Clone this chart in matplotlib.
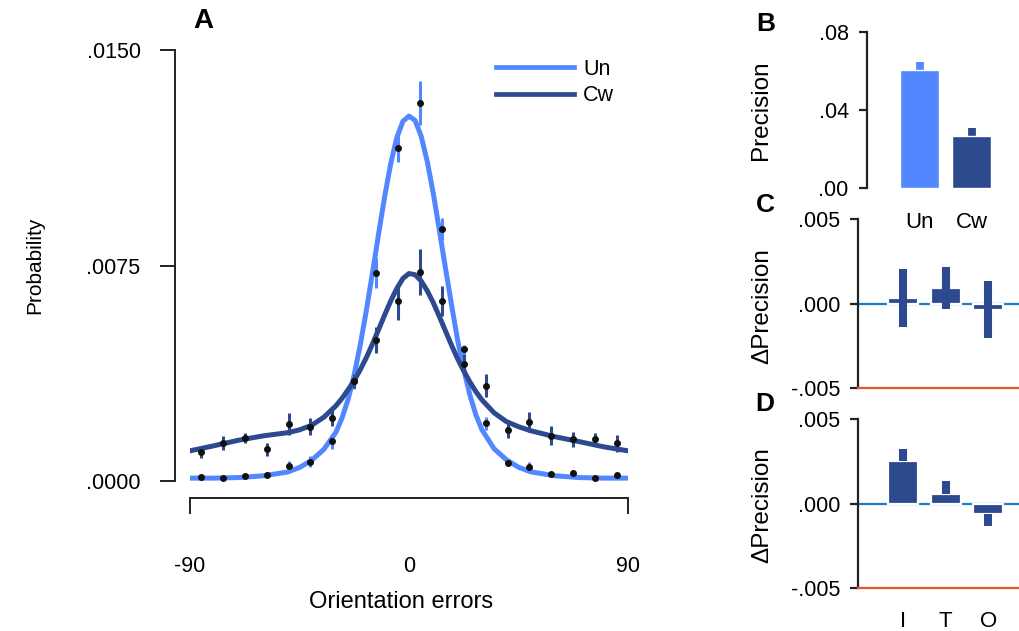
import matplotlib
matplotlib.use("Agg")
import matplotlib.pyplot as plt
import numpy as np

plt.rcParams['font.family'] = ['Liberation Sans', 'DejaVu Sans']

# ---------------- data ----------------
# Panel A: binned orientation errors (deg)
bin_centers = [-85.5, -76.5, -67.5, -58.5, -49.5, -40.5, -31.5, -22.5, -13.5, -4.5,
               4.5, 13.5, 22.5, 31.5, 40.5, 49.5, 58.5, 67.5, 76.5, 85.5]
un_points = [0.00015, 0.00010, 0.00018, 0.00022, 0.00053, 0.00067, 0.00138, 0.00348, 0.00723, 0.01159,
             0.01316, 0.00877, 0.00458, 0.00201, 0.00064, 0.00050, 0.00025, 0.00029, 0.00011, 0.00021]
un_err = [0.00005, 0.00004, 0.00004, 0.00008, 0.00018, 0.00020, 0.00026, 0.00028, 0.00052, 0.00048,
          0.00077, 0.00038, 0.00017, 0.00023, 0.00008, 0.00016, 0.00008, 0.00010, 0.00005, 0.00005]
cw_points = [0.00100, 0.00131, 0.00149, 0.00110, 0.00197, 0.00189, 0.00220, 0.00348, 0.00491, 0.00626,
             0.00726, 0.00626, 0.00406, 0.00332, 0.00177, 0.00206, 0.00158, 0.00145, 0.00145, 0.00131]
cw_err = [0.00020, 0.00024, 0.00017, 0.00023, 0.00038, 0.00029, 0.00029, 0.00023, 0.00044, 0.00064,
          0.00080, 0.00052, 0.00035, 0.00040, 0.00029, 0.00035, 0.00032, 0.00026, 0.00023, 0.00029]

# fitted curves
curve_x = [-90, -80, -70, -60, -50, -45, -40, -35, -30, -27.5, -25, -22.5, -20, -17.5, -15, -12.5,
           -10, -7.5, -5, -2.5, 0, 2.5, 5, 7.5, 10, 12.5, 15, 17.5, 20, 22.5, 25, 27.5, 30,
           35, 40, 45, 50, 60, 70, 80, 90]
un_curve = [0.00010, 0.00010, 0.00012, 0.00018, 0.00031, 0.00047, 0.00072, 0.00110, 0.00170, 0.00220,
            0.00285, 0.00370, 0.00475, 0.00595, 0.00725, 0.00860,
            0.00990, 0.01105, 0.01195, 0.01252, 0.01270, 0.01255, 0.01200, 0.01112, 0.01000,
            0.00872, 0.00740, 0.00612, 0.00490, 0.00388, 0.00300, 0.00230, 0.00178,
            0.00112, 0.00074, 0.00048, 0.00032, 0.00018, 0.00012, 0.00010, 0.00010]
cw_curve = [0.00105, 0.00123, 0.00142, 0.00157, 0.00168, 0.00178, 0.00194, 0.00222, 0.00262, 0.00288,
            0.00318, 0.00350, 0.00388, 0.00430, 0.00477, 0.00527,
            0.00578, 0.00627, 0.00670, 0.00705, 0.00722, 0.00718, 0.00696, 0.00662, 0.00620,
            0.00572, 0.00522, 0.00472, 0.00425, 0.00383, 0.00345, 0.00311, 0.00282,
            0.00237, 0.00207, 0.00189, 0.00175, 0.00154, 0.00137, 0.00119, 0.00105]

# Panel B
b_labels = ["Un", "Cw"]
b_values = [0.0603, 0.0269]
b_err = [0.0041, 0.0041]

# Panel C (two-sided error bars)
c_values = [0.00035, 0.00095, -0.00035]
c_err = [0.0017, 0.00125, 0.0017]

# Panel D (error bars shown on the outer side of each bar)
d_labels = ["I", "T", "O"]
d_values = [0.00253, 0.00059, -0.00064]
d_err = [0.0007, 0.00073, 0.0007]

LIGHT = "#5387FF"
DARK = "#2E4A8E"
ZERO = "#1C7CC4"
ORANGE = "#E2582C"
AXC = "#222222"

W, H = 1020, 631
fig = plt.figure(figsize=(W / 100, H / 100), dpi=100)


def fx(px):
    return px / W


def fy(py):
    return 1 - py / H


# ---------------- Panel A ----------------
axA = fig.add_axes([fx(190), fy(481), fx(628) - fx(190), fy(50) - fy(481)])
axA.plot(curve_x, un_curve, color=LIGHT, lw=3.6, zorder=2, label="Un", solid_joinstyle='round')
axA.plot(curve_x, cw_curve, color=DARK, lw=3.6, zorder=3, label="Cw", solid_joinstyle='round')
axA.errorbar(bin_centers, un_points, yerr=un_err, fmt='none', ecolor=LIGHT, elinewidth=2.2, capsize=0, zorder=4)
axA.errorbar(bin_centers, cw_points, yerr=cw_err, fmt='none', ecolor=DARK, elinewidth=2.2, capsize=0, zorder=4)
axA.plot(bin_centers, un_points, 'o', color='#111111', ms=4, zorder=6, clip_on=False)
axA.plot(bin_centers, cw_points, 'o', color='#111111', ms=4, zorder=6, clip_on=False)
axA.set_xlim(-90, 90)
axA.set_ylim(0, 0.015)
for s in ['top', 'right']:
    axA.spines[s].set_visible(False)
axA.spines['left'].set_position(('outward', 10.8))
axA.spines['bottom'].set_position(('outward', 12.2))
axA.spines['left'].set_bounds(0, 0.015)
axA.spines['bottom'].set_bounds(-90, 90)
for s in ['left', 'bottom']:
    axA.spines[s].set_linewidth(1.4)
    axA.spines[s].set_color(AXC)
axA.set_yticks([0, 0.0075, 0.015])
axA.set_yticklabels([".0000", ".0075", ".0150"])
axA.set_xticks([-90, 0, 90])
axA.set_xticklabels(["-90", "0", "90"])
axA.tick_params(axis='y', length=10.8, width=1.4, pad=14, labelsize=15.5, color=AXC)
axA.tick_params(axis='x', length=11.5, width=1.4, pad=30, labelsize=15.5, color=AXC)
axA.xaxis.get_major_ticks()[1].tick1line.set_visible(False)
leg = axA.legend(loc='upper left', bbox_to_anchor=(fx(496), fy(59)), bbox_transform=fig.transFigure,
                 frameon=False, fontsize=15.5, handlelength=3.6, handletextpad=0.45,
                 labelspacing=0.25, borderpad=0, borderaxespad=0)
for line in leg.get_lines():
    line.set_linewidth(3.4)
fig.text(fx(35), fy(265), "Probability", rotation=90, ha='center', va='center', fontsize=15)
fig.text(fx(401), fy(602), "Orientation errors", ha='center', va='center', fontsize=17)
fig.text(fx(203), fy(21), "A", ha='center', va='center', fontsize=20, fontweight='bold')

# ---------------- Panel B ----------------
axB = fig.add_axes([fx(866.7), fy(188.3), fx(1020) - fx(866.7), fy(31.7) - fy(188.3)])
xb = np.arange(len(b_values))
axB.errorbar(xb, b_values, yerr=[[0, 0], b_err], fmt='none', ecolor=[LIGHT, DARK],
             elinewidth=5.6, capsize=0, zorder=1)
axB.bar(xb, b_values, width=0.745, color=[LIGHT, DARK], edgecolor='white', linewidth=1.0, zorder=2)
axB.set_xlim(-1.01, 1.92)
axB.set_ylim(0, 0.08)
for s in ['top', 'right', 'bottom']:
    axB.spines[s].set_visible(False)
axB.spines['left'].set_linewidth(1.6)
axB.spines['left'].set_color(AXC)
axB.set_yticks([0, 0.04, 0.08])
axB.set_yticklabels([".00", ".04", ".08"])
axB.set_xticks(xb)
axB.set_xticklabels(b_labels)
axB.tick_params(axis='y', length=6, width=1.6, pad=7, labelsize=15.5, color=AXC)
axB.tick_params(axis='x', length=0, pad=17, labelsize=16)
fig.text(fx(761), fy(110), "Precision", rotation=90, ha='center', va='center', fontsize=17.5)
fig.text(fx(766), fy(24), "B", ha='center', va='center', fontsize=19, fontweight='bold')


# ---------------- Panels C, D ----------------
def delta_panel(top, bottom, values, yerr, labels, letter, letter_y, label_y):
    ax = fig.add_axes([fx(858.3), fy(bottom), fx(1020) - fx(858.3), fy(top) - fy(bottom)])
    ax.patch.set_visible(False)
    x = np.arange(len(values))
    ax.axhline(0, color=ZERO, lw=1.6, zorder=1)
    ax.bar(x, values, width=0.706, color=DARK, edgecolor='white', linewidth=1.6, zorder=2)
    ax.errorbar(x, values, yerr=yerr, fmt='none', ecolor=DARK, elinewidth=5.8, capsize=0, zorder=3)
    ax.set_xlim(-1.059, 2.746)
    ax.set_ylim(-0.005, 0.005)
    for s in ['top', 'right']:
        ax.spines[s].set_visible(False)
    ax.spines['left'].set_linewidth(1.6)
    ax.spines['left'].set_color(AXC)
    ax.spines['bottom'].set_color(ORANGE)
    ax.spines['bottom'].set_linewidth(1.6)
    ax.set_yticks([-0.005, 0, 0.005])
    ax.set_yticklabels(["-.005", ".000", ".005"])
    ax.tick_params(axis='y', length=6, width=1.6, pad=7, labelsize=15.5, color=AXC)
    ax.set_xticks(x)
    if labels:
        ax.set_xticklabels(labels)
    else:
        ax.set_xticklabels([])
    ax.tick_params(axis='x', length=0, pad=17, labelsize=16)
    fig.text(fx(762), fy(label_y), "\u0394Precision", rotation=90, ha='center', va='center', fontsize=17.5)
    fig.text(fx(765), fy(letter_y), letter, ha='center', va='center', fontsize=19, fontweight='bold')
    return ax


axC = delta_panel(219.3, 388.3, c_values, c_err, None, "C", 205, 306)
d_yerr = [[0 if v > 0 else e for v, e in zip(d_values, d_err)],
          [e if v > 0 else 0 for v, e in zip(d_values, d_err)]]
axD = delta_panel(419.3, 587.7, d_values, d_yerr, d_labels, "D", 404, 505)

fig.savefig("out.png", dpi=100)
